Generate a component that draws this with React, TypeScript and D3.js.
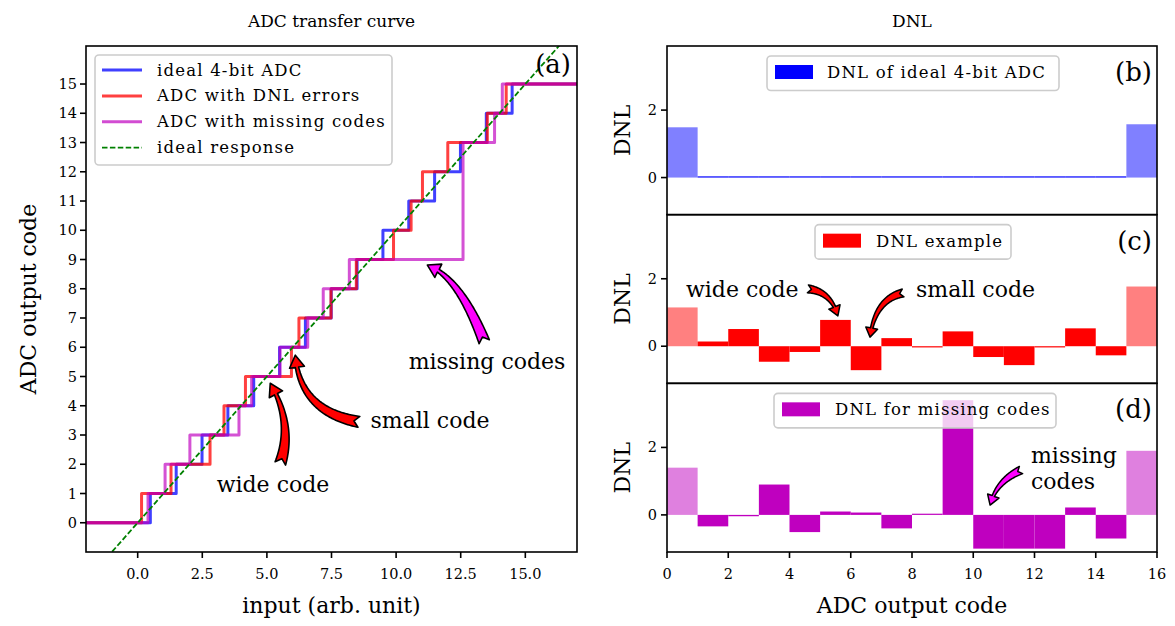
import React from "react";
import * as d3 from "d3";

// ---------- data ----------
const codes = d3.range(16);
const dnlIdeal = [1.49, 0, 0, 0, 0, 0, 0, 0, 0, 0, 0, 0, 0, 0, 0, 1.58];
const dnlExample = [1.15, 0.14, 0.51, -0.46, -0.17, 0.78, -0.71, 0.24, -0.02, 0.44, -0.32, -0.56, -0.02, 0.53, -0.27, 1.77];
const dnlMissing = [1.4, -0.34, -0.04, 0.9, -0.51, 0.1, 0.07, -0.4, 0.01, 3.4, -1, -1, -1, 0.22, -0.7, 1.9];
const inputRange = [-2, 17];
const idealResponse = [-2, 17];
const xTicksLeft = [0, 2.5, 5, 7.5, 10, 12.5, 15];
const yTicksLeft = d3.range(16);
const xTicksRight = [0, 2, 4, 6, 8, 10, 12, 14, 16];
const yTicksRight = [0, 2];

const FONT = "'DejaVu Serif', 'Liberation Serif', serif";

// transitions from DNL values: each code k spans (1 + dnl_k) input units
function staircase(dnl: number[]): [number, number][] {
  const pts: [number, number][] = [[inputRange[0], 0]];
  let t = inputRange[0];
  for (let k = 1; k < dnl.length; k++) {
    t += 1 + dnl[k - 1];
    pts.push([t, k]);
  }
  pts.push([inputRange[1], dnl.length - 1]);
  return pts;
}

type P = [number, number];
function fancyPath(p0: P, c: P, p1: P, tailW: number, headW: number, headL: number): string {
  const N = 80;
  const B = (t: number): P => [
    (1 - t) * (1 - t) * p0[0] + 2 * (1 - t) * t * c[0] + t * t * p1[0],
    (1 - t) * (1 - t) * p0[1] + 2 * (1 - t) * t * c[1] + t * t * p1[1],
  ];
  const pts = d3.range(N + 1).map((i) => B(i / N));
  const cum = [0];
  for (let i = 1; i <= N; i++) cum.push(cum[i - 1] + Math.hypot(pts[i][0] - pts[i - 1][0], pts[i][1] - pts[i - 1][1]));
  const L = cum[N];
  let kH = cum.findIndex((v) => v >= L - headL);
  if (kH < 2) kH = 2;
  const neckW = tailW * 0.3;
  const left: P[] = [];
  const right: P[] = [];
  for (let i = 0; i <= kH; i++) {
    const a = pts[Math.max(0, i - 1)];
    const b = pts[Math.min(N, i + 1)];
    let dx = b[0] - a[0];
    let dy = b[1] - a[1];
    const n = Math.hypot(dx, dy) || 1;
    dx /= n;
    dy /= n;
    const f = i / kH;
    const w = (tailW * (1 - f) + neckW * f) / 2;
    left.push([pts[i][0] - dy * w, pts[i][1] + dx * w]);
    right.push([pts[i][0] + dy * w, pts[i][1] - dx * w]);
  }
  const hb = pts[kH];
  let hx = p1[0] - hb[0];
  let hy = p1[1] - hb[1];
  const hn = Math.hypot(hx, hy) || 1;
  hx /= hn;
  hy /= hn;
  const hl: P = [hb[0] - hy * headW / 2, hb[1] + hx * headW / 2];
  const hr: P = [hb[0] + hy * headW / 2, hb[1] - hx * headW / 2];
  const d0x = pts[1][0] - pts[0][0];
  const d0y = pts[1][1] - pts[0][1];
  const d0n = Math.hypot(d0x, d0y) || 1;
  const notch: P = [p0[0] + (d0x / d0n) * tailW * 0.45, p0[1] + (d0y / d0n) * tailW * 0.45];
  const seq: P[] = [...left, hl, p1, hr, ...right.reverse(), notch];
  return "M" + seq.map((p) => p[0].toFixed(2) + "," + p[1].toFixed(2)).join("L") + "Z";
}

export default function App() {
  const W = 1175;
  const H = 626;
  const L = { x0: 86, x1: 577, y0: 46, y1: 552 };
  const R = { x0: 667, x1: 1157, y0: 46, y1: 552 };
  const xL = d3.scaleLinear().domain(inputRange).range([L.x0, L.x1]);
  const yL = d3.scaleLinear().domain([-1, 16.3]).range([L.y1, L.y0]);
  const xR = d3.scaleLinear().domain([0, 16]).range([R.x0, R.x1]);
  const ph = (R.y1 - R.y0) / 3;
  const pTop = (i: number) => R.y0 + i * ph;
  const yR = (i: number) => d3.scaleLinear().domain([-1.1, 3.9]).range([pTop(i + 1), pTop(i)]);

  const step = d3
    .line<[number, number]>()
    .x((d) => xL(d[0]))
    .y((d) => yL(d[1]))
    .curve(d3.curveStepAfter);

  const lines = [
    { pts: staircase(dnlIdeal), color: "#0000ff" },
    { pts: staircase(dnlExample), color: "#ff0000" },
    { pts: staircase(dnlMissing), color: "#bf00bf" },
  ];

  const panels = [
    { dnl: dnlIdeal, c: "#0000ff", edge: "#8080ff", label: "DNL of ideal 4-bit ADC", tag: "(b)", lg: { x: 767, w: 292, px: 775, tx: 827 } },
    { dnl: dnlExample, c: "#ff0000", edge: "#ff8080", label: "DNL example", tag: "(c)", lg: { x: 815, w: 196, px: 823, tx: 876 } },
    { dnl: dnlMissing, c: "#bf00bf", edge: "#df80df", label: "DNL for missing codes", tag: "(d)", lg: { x: 774, w: 282, px: 782, tx: 835 } },
  ];

  const legendItems = [
    { label: "ideal 4-bit ADC", color: "#0000ff", op: 0.75, dash: "" },
    { label: "ADC with DNL errors", color: "#ff0000", op: 0.75, dash: "" },
    { label: "ADC with missing codes", color: "#bf00bf", op: 0.7, dash: "" },
    { label: "ideal response", color: "#008000", op: 1, dash: "5.5,2.4" },
  ];

  const pL = (x: number, y: number): P => [xL(x), yL(y)];
  const leftArrows = [
    { p0: pL(13.41, 6.19), c: pL(12.44, 8.41), p1: pL(11.21, 8.81), fill: "#ff00ff" },
    { p0: pL(8.56, 3.45), c: pL(6.27, 3.8), p1: pL(6.1, 5.73), fill: "#ff0000" },
    { p0: pL(5.52, 2.03), c: pL(6.03, 3.4), p1: pL(5.13, 4.77), fill: "#ff0000" },
  ];
  const pR = (i: number, x: number, y: number): P => [xR(x), yR(i)(y)];
  const rightArrows = [
    { p0: pR(1, 4.6, 1.7), c: pR(1, 5.35, 1.62), p1: pR(1, 5.58, 0.9), fill: "#ff0000" },
    { p0: pR(1, 7.71, 1.58), c: pR(1, 6.8, 1.4), p1: pR(1, 6.63, 0.27), fill: "#ff0000" },
    { p0: pR(2, 11.56, 1.33), c: pR(2, 10.75, 1.0), p1: pR(2, 10.55, 0.29), fill: "#ff00ff" },
  ];

  return (
    <svg width={W} height={H} viewBox={`0 0 ${W} ${H}`} style={{ display: "block", position: "absolute", left: 0, top: 0, background: "#fff" }} fontFamily={FONT}>
      <rect width={W} height={H} fill="#fff" />
      {/* ---------------- Left panel ---------------- */}
      <text x={(L.x0 + L.x1) / 2} y={27} textAnchor="middle" fontSize={17}>ADC transfer curve</text>
      <defs>
        <clipPath id="clipL">
          <rect x={L.x0} y={L.y0} width={L.x1 - L.x0} height={L.y1 - L.y0} />
        </clipPath>
      </defs>
      <g clipPath="url(#clipL)">
        {lines.map((l, i) => (
          <path key={i} d={step(l.pts) || ""} fill="none" stroke={l.color} strokeOpacity={i === 2 ? 0.68 : 0.75} strokeWidth={3} strokeLinejoin="round" />
        ))}
        <line x1={xL(idealResponse[0])} y1={yL(idealResponse[0])} x2={xL(idealResponse[1])} y2={yL(idealResponse[1])} stroke="#008000" strokeWidth={1.8} strokeDasharray="5.5,2.4" />
      </g>
      {leftArrows.map((a, i) => (
        <path key={i} d={fancyPath(a.p0, a.c, a.p1, 11, 15, 13)} fill={a.fill} stroke="#000" strokeWidth={1.6} strokeLinejoin="round" />
      ))}
      <text x={487} y={369} textAnchor="middle" fontSize={22}>missing codes</text>
      <text x={430} y={428} textAnchor="middle" fontSize={22}>small code</text>
      <text x={273} y={492} textAnchor="middle" fontSize={22}>wide code</text>
      {/* legend */}
      <rect x={95} y={55} width={297} height={110} rx={4} fill="#fff" fillOpacity={0.8} stroke="#cccccc" strokeWidth={1.6} />
      {legendItems.map((it, i) => {
        const yy = 70 + i * 25.9;
        return (
          <g key={i}>
            <line x1={102} x2={142} y1={yy} y2={yy} stroke={it.color} strokeOpacity={it.op} strokeWidth={it.dash ? 1.8 : 3} strokeDasharray={it.dash || undefined} />
            <text x={157} y={yy + 5.5} fontSize={16.5} letterSpacing={1.2}>{it.label}</text>
          </g>
        );
      })}
      <text x={571} y={73} textAnchor="end" fontSize={26}>(a)</text>
      {/* frame & ticks */}
      <rect x={L.x0} y={L.y0} width={L.x1 - L.x0} height={L.y1 - L.y0} fill="none" stroke="#000" strokeWidth={1.6} />
      {xTicksLeft.map((t) => (
        <g key={t}>
          <line x1={xL(t)} x2={xL(t)} y1={L.y1} y2={L.y1 + 6} stroke="#000" strokeWidth={1.6} />
          <text x={xL(t)} y={L.y1 + 27} textAnchor="middle" fontSize={14.5}>{t.toFixed(1)}</text>
        </g>
      ))}
      {yTicksLeft.map((t) => (
        <g key={t}>
          <line x1={L.x0 - 6} x2={L.x0} y1={yL(t)} y2={yL(t)} stroke="#000" strokeWidth={1.6} />
          <text x={L.x0 - 9} y={yL(t) + 5} textAnchor="end" fontSize={14.5}>{t}</text>
        </g>
      ))}
      <text x={(L.x0 + L.x1) / 2} y={613} textAnchor="middle" fontSize={22}>input (arb. unit)</text>
      <text transform={`translate(36,${(L.y0 + L.y1) / 2}) rotate(-90)`} textAnchor="middle" fontSize={22}>ADC output code</text>

      {/* ---------------- Right panels ---------------- */}
      <text x={(R.x0 + R.x1) / 2} y={27} textAnchor="middle" fontSize={17}>DNL</text>
      {panels.map((p, i) => {
        const y = yR(i);
        return (
          <g key={i}>
            {codes.map((k) => {
              const v = p.dnl[k];
              const edge = k === 0 || k === codes.length - 1;
              const y0 = y(Math.max(0, v));
              const hgt = Math.max(1.2, Math.abs(y(v) - y(0)));
              return <rect key={k} x={xR(k)} width={xR(k + 1) - xR(k)} y={v >= 0 ? y0 - (hgt - Math.abs(y(v) - y(0))) : y(0)} height={hgt} fill={edge ? p.edge : p.c} />;
            })}
            <rect x={p.lg.x} y={pTop(i) + 10} width={p.lg.w} height={34.5} rx={4} fill="#fff" fillOpacity={0.8} stroke="#cccccc" strokeWidth={1.6} />
            <rect x={p.lg.px} y={pTop(i) + 19} width={38} height={14} fill={p.c} />
            <text x={p.lg.tx} y={pTop(i) + 32} fontSize={16.5} letterSpacing={1.2}>{p.label}</text>
            <text x={1152} y={pTop(i) + 35} textAnchor="end" fontSize={26}>{p.tag}</text>
            <rect x={R.x0} y={pTop(i)} width={R.x1 - R.x0} height={ph} fill="none" stroke="#000" strokeWidth={1.6} />
            {yTicksRight.map((t) => (
              <g key={t}>
                <line x1={R.x0 - 6} x2={R.x0} y1={y(t)} y2={y(t)} stroke="#000" strokeWidth={1.6} />
                <text x={R.x0 - 10} y={y(t) + 5} textAnchor="end" fontSize={14.5}>{t}</text>
              </g>
            ))}
            <text transform={`translate(630,${pTop(i) + ph / 2}) rotate(-90)`} textAnchor="middle" fontSize={22}>DNL</text>
          </g>
        );
      })}
      {rightArrows.map((a, i) => (
        <path key={i} d={fancyPath(a.p0, a.c, a.p1, 8, 12, 10)} fill={a.fill} stroke="#000" strokeWidth={1.5} strokeLinejoin="round" />
      ))}
      <text x={686} y={297} fontSize={22}>wide code</text>
      <text x={916} y={297} fontSize={22}>small code</text>
      <text x={1031} y={463} fontSize={22}>missing</text>
      <text x={1031} y={489} fontSize={22}>codes</text>
      {xTicksRight.map((t) => (
        <g key={t}>
          <line x1={xR(t)} x2={xR(t)} y1={R.y1} y2={R.y1 + 6} stroke="#000" strokeWidth={1.6} />
          <text x={xR(t)} y={R.y1 + 27} textAnchor="middle" fontSize={14.5}>{t}</text>
        </g>
      ))}
      <text x={(R.x0 + R.x1) / 2} y={613} textAnchor="middle" fontSize={22}>ADC output code</text>
    </svg>
  );
}
